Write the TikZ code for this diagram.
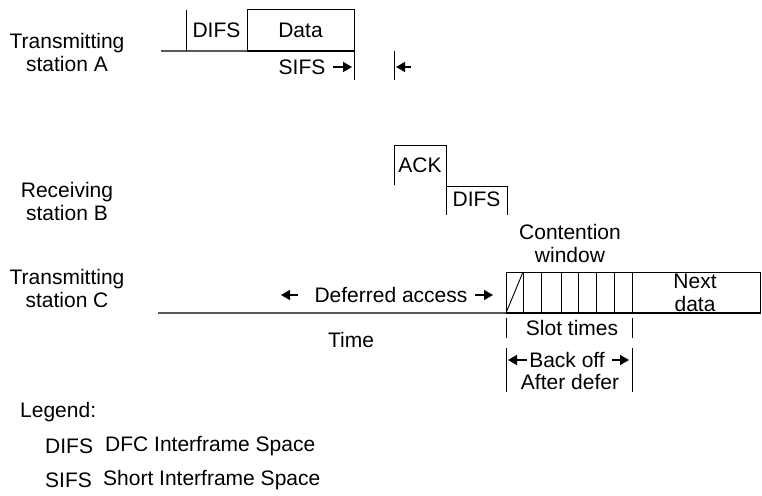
\documentclass[tikz,border=0pt]{standalone}
\usepackage{fontspec}
\setmainfont{Liberation Sans}
\usetikzlibrary{arrows.meta}

\begin{document}
\begin{tikzpicture}[
        x=1pt, y=-1pt,
        every node/.style={
            inner sep=0pt,
            align=center,
            font=\fontsize{21}{23}\selectfont
        },
        frame/.style={draw, line width=0.9pt},
        base/.style={draw=black!65, line width=1.3pt},
        tick/.style={draw, line width=0.9pt},
        arr/.style={-{Triangle[length=9pt,width=10pt]}, line width=1.4pt}
    ]
        \useasboundingbox (0,0) rectangle (762,495);

        % stanice
        \node (staA) at (67,52) {Transmitting\\ station A};
        \node (staB) at (67,201) {Receiving\\ station B};
        \node (staC) at (67,288) {Transmitting\\ station C};

        % stanice A
        \coordinate (a0) at (161,51);
        \coordinate (a1) at (247,51);
        \draw[base] (a0) -- (a1);
        \draw[tick] (186,10) -- (186,51);
        \node (difsA) at (216.5,30) {DIFS};
        \draw[frame] (247,51) -- (247,9) -- (354,9) -- (354,51);
        \draw[line width=1.8pt] (247,51) -- (354,51);
        \node (data) at (300.5,30) {Data};

        % SIFS
        \draw[tick] (354,51) -- (354,80);
        \draw[tick] (394,51) -- (394,80);
        \node (sifs) at (302,67) {SIFS};
        \coordinate (s1) at (333,67);
        \coordinate (s2) at (352,67);
        \coordinate (s3) at (411,67);
        \coordinate (s4) at (396,67);
        \draw[arr] (s1) -- (s2);
        \draw[arr] (s3) -- (s4);

        % stanice B
        \draw[frame] (394,185) -- (394,145) -- (446,145) -- (446,215);
        \node (ack) at (420,165) {ACK};
        \draw[frame] (446,186) -- (507,186) -- (507,215);
        \node (difsB) at (476.5,199) {DIFS};

        % stanice C
        \draw[base] (158,313) -- (506,313);
        \draw[frame] (506,272) rectangle (760,313);
        \draw[line width=1.6pt] (506,313) -- (760,313);
        \foreach \sx in {523,541,561,578,596,614,632}
            \draw[frame] (\sx,272) -- (\sx,313);
        \draw[frame] (506,313) -- (523,272);
        \node (next) at (695,293) {Next\\ data};
        \node (cont) at (570,243) {Contention\\ window};

        % odlozeny pristup
        \node (defer) at (391,295) {Deferred access};
        \coordinate (d1) at (298,295);
        \coordinate (d2) at (281,295);
        \coordinate (d3) at (475,295);
        \coordinate (d4) at (493,295);
        \draw[arr] (d1) -- (d2);
        \draw[arr] (d3) -- (d4);
        \node (time) at (351,340) {Time};

        % sloty a back off
        \draw[tick] (506,318) -- (506,338);
        \draw[tick] (632,318) -- (632,338);
        \node (slot) at (572,328) {Slot times};
        \draw[tick] (506,348) -- (506,392);
        \draw[tick] (632,348) -- (632,392);
        \node (back) at (567,360) {Back off};
        \coordinate (b1) at (527,360);
        \coordinate (b2) at (508,360);
        \coordinate (b3) at (612,360);
        \coordinate (b4) at (629,360);
        \draw[arr] (b1) -- (b2);
        \draw[arr] (b3) -- (b4);
        \node (after) at (570,382) {After defer};

        % legenda
        \node[anchor=west] (leg) at (20,412) {Legend:};
        \node[anchor=west] (legd) at (45,446) {DIFS};
        \node[anchor=west] (legdt) at (105,446) {DFC Interframe Space};
        \node[anchor=west] (legs) at (45,480) {SIFS};
        \node[anchor=west] (legst) at (103,480) {Short Interframe Space};

    \end{tikzpicture}
\end{document}
